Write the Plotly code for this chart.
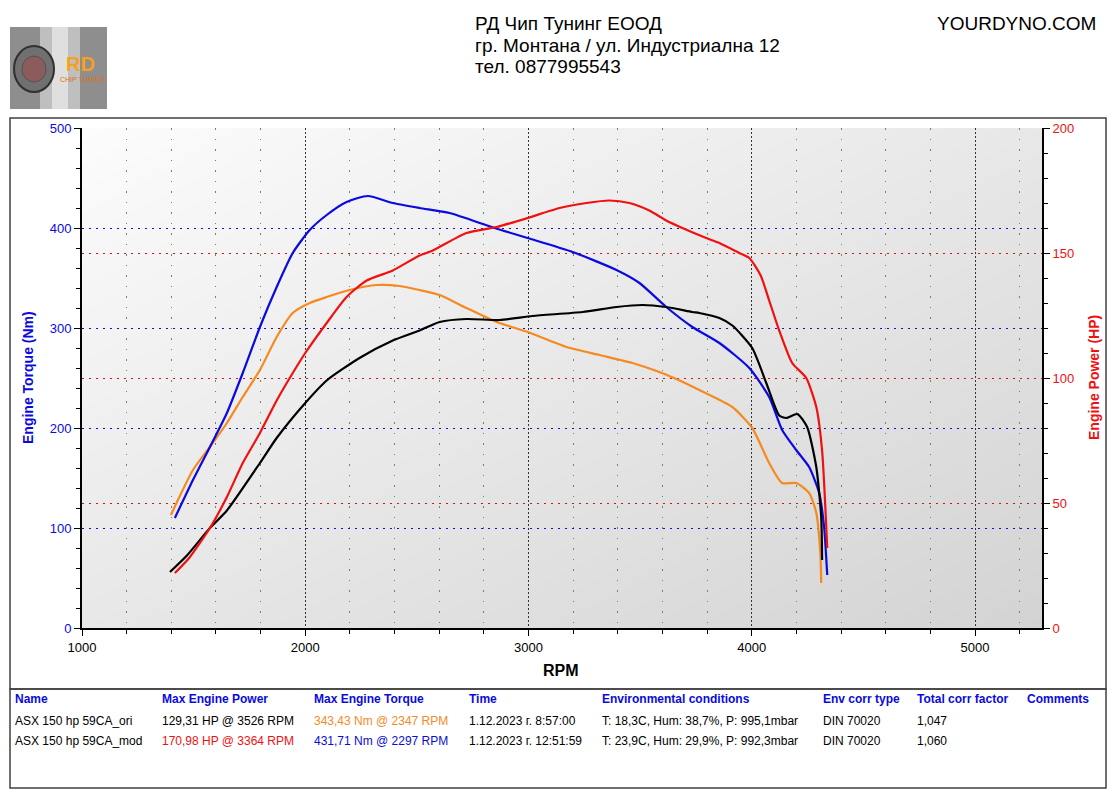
import plotly.graph_objects as go

W, H = 1116, 794
OFF = 8  # the page puts the figure 8px in from the top-left corner

# --- dyno curves ---
ori_torque_rpm = [1398, 1497, 1573, 1649, 1720, 1797, 1872, 1944, 2020, 2096, 2199, 2320, 2423, 2512,
                  2602, 2722, 2857, 2996, 3170, 3318, 3465, 3586, 3662, 3765, 3913, 4002, 4078, 4136,
                  4199, 4257, 4289, 4307, 4311]
ori_torque_nm = [113, 158, 181, 205, 231, 258, 291, 315, 325, 331, 338, 343, 342, 338,
                 333, 320, 306, 296, 281, 273, 265, 256, 249, 238, 221, 200, 165, 145,
                 145, 135, 115, 75, 45]

mod_torque_rpm = [1416, 1497, 1573, 1649, 1720, 1797, 1872, 1944, 2020, 2096, 2185, 2280, 2392, 2512,
                  2647, 2848, 2996, 3198, 3394, 3497, 3617, 3734, 3855, 3989, 4078, 4136, 4199, 4257,
                  4302, 4324, 4338]
mod_torque_nm = [110, 148, 181, 215, 255, 301, 341, 375, 398, 413, 426, 432, 425, 420,
                 415, 400, 390, 376, 358, 345, 321, 301, 285, 260, 231, 198, 178, 161,
                 135, 101, 53]

mod_power_rpm = [1416, 1480, 1573, 1649, 1720, 1797, 1872, 1944, 2000, 2096, 2185, 2275, 2392, 2512,
                 2571, 2722, 2857, 2996, 3139, 3259, 3362, 3452, 3541, 3617, 3689, 3796, 3855, 3944,
                 3989, 4040, 4078, 4123, 4181, 4244, 4289, 4315, 4338]
mod_power_hp = [22, 28, 40, 52.4, 66, 78, 91, 102, 110, 122, 132.4, 139, 143, 149,
                151, 158, 160.4, 164, 168, 170, 171, 170, 167, 163, 160, 156, 154, 150,
                148, 141, 131, 119, 106, 100, 88.4, 71, 32]

ori_power_rpm = [1394, 1470, 1573, 1649, 1797, 1872, 2000, 2096, 2243, 2392, 2512, 2602, 2722, 2870,
                 3018, 3242, 3394, 3510, 3617, 3734, 3765, 3855, 3913, 4002, 4065, 4123, 4154, 4204,
                 4248, 4289, 4311, 4315]
ori_power_hp = [22.4, 29, 40, 47, 66, 76, 90, 99, 108, 115, 119, 122.4, 123.6, 123.2,
                124.8, 126.4, 128.4, 129.2, 128.4, 126.4, 126, 124, 121, 112, 98, 85, 84, 85.6,
                80.4, 64.4, 44.4, 27.2]

# --- header and table text ---
header_lines = ["РД Чип Тунинг ЕООД", "гр. Монтана / ул. Индустриална 12", "тел. 0877995543"]
site_name = "YOURDYNO.COM"

table_cols = ["Name", "Max Engine Power", "Max Engine Torque", "Time", "Environmental conditions",
              "Env corr type", "Total corr factor", "Comments"]
row_ori = ["ASX 150 hp 59CA_ori", "129,31 HP @ 3526 RPM", "343,43 Nm @ 2347 RPM", "1.12.2023 г. 8:57:00",
           "T: 18,3C, Hum: 38,7%, P: 995,1mbar", "DIN 70020", "1,047", ""]
row_mod = ["ASX 150 hp 59CA_mod", "170,98 HP @ 3364 RPM", "431,71 Nm @ 2297 RPM", "1.12.2023 г. 12:51:59",
           "T: 23,9C, Hum: 29,9%, P: 992,3mbar", "DIN 70020", "1,060", ""]

BLUE = "#0a0ae0"
RED = "#f01010"
ORANGE = "#f58a1f"
BLACK = "#000000"
NARROW = "Liberation Sans Narrow, Arial Narrow, Liberation Sans, sans-serif"
SANS = "Liberation Sans, Arial, sans-serif"


def px(x):
    return (x - OFF) / W


def py(y):
    return 1 - (y - OFF) / H


xdom = [px(82), px(1042)]
ydom = [py(628), py(128)]

fig = go.Figure()

# gradient background of the plot area (own hidden subplot, drawn first)
fig.add_trace(go.Heatmap(x=[0, 1], y=[0, 1], z=[[0.5, 1.0], [0.0, 0.5]], zsmooth="best",
                         colorscale=[[0, "#fcfcfc"], [1, "#d3d3d3"]], showscale=False,
                         hoverinfo="skip", xaxis="x", yaxis="y"))

line_w = 2.2
fig.add_trace(go.Scatter(x=ori_torque_rpm, y=ori_torque_nm, mode="lines", name="ori torque",
                         line=dict(color=ORANGE, width=line_w, shape="spline", smoothing=0.6),
                         xaxis="x2", yaxis="y2"))
fig.add_trace(go.Scatter(x=mod_torque_rpm, y=mod_torque_nm, mode="lines", name="mod torque",
                         line=dict(color=BLUE, width=line_w, shape="spline", smoothing=0.6),
                         xaxis="x2", yaxis="y2"))
fig.add_trace(go.Scatter(x=ori_power_rpm, y=ori_power_hp, mode="lines", name="ori power",
                         line=dict(color=BLACK, width=line_w, shape="spline", smoothing=0.6),
                         xaxis="x2", yaxis="y3"))
fig.add_trace(go.Scatter(x=mod_power_rpm, y=mod_power_hp, mode="lines", name="mod power",
                         line=dict(color=RED, width=line_w, shape="spline", smoothing=0.6),
                         xaxis="x2", yaxis="y3"))

shapes = []
# chart frame + table frame
shapes.append(dict(type="rect", xref="paper", yref="paper", x0=px(10), x1=px(1106), y0=py(689), y1=py(118),
                   line=dict(color="#404040", width=1.5)))
shapes.append(dict(type="rect", xref="paper", yref="paper", x0=px(10), x1=px(1106), y0=py(788), y1=py(689),
                   line=dict(color="#404040", width=1.5)))
# logo placeholder
shapes.append(dict(type="rect", xref="paper", yref="paper", x0=px(10), x1=px(107), y0=py(109), y1=py(27),
                   fillcolor="#8e8e8e", line_width=0))
shapes.append(dict(type="rect", xref="paper", yref="paper", x0=px(40), x1=px(80), y0=py(109), y1=py(27),
                   fillcolor="#e8e8e8", opacity=0.55, line_width=0))
shapes.append(dict(type="rect", xref="paper", yref="paper", x0=px(52), x1=px(68), y0=py(109), y1=py(27),
                   fillcolor="#ffffff", opacity=0.5, line_width=0))
shapes.append(dict(type="circle", xref="paper", yref="paper", x0=px(14), x1=px(54), y0=py(92), y1=py(46),
                   fillcolor="#707070", line=dict(color="#303030", width=2)))
shapes.append(dict(type="circle", xref="paper", yref="paper", x0=px(22), x1=px(46), y0=py(82), y1=py(56),
                   fillcolor="#a05050", opacity=0.6, line=dict(color="#404040", width=1)))

annotations = []
for i, t in enumerate(header_lines):
    annotations.append(dict(text=t, xref="paper", yref="paper", x=px(473), y=py(23 + 22 * i),
                            xanchor="left", yanchor="middle", showarrow=False,
                            font=dict(family=NARROW, size=19, color="#000")))
annotations.append(dict(text=site_name, xref="paper", yref="paper", x=px(1098), y=py(23),
                        xanchor="right", yanchor="middle", showarrow=False,
                        font=dict(family=NARROW, size=19, color="#000")))
annotations.append(dict(text="<b>RD</b>", xref="paper", yref="paper", x=px(80), y=py(64),
                        xanchor="center", yanchor="middle", showarrow=False,
                        font=dict(family=SANS, size=20, color="#f5a020")))
annotations.append(dict(text="CHIP TUNING", xref="paper", yref="paper", x=px(82), y=py(79),
                        xanchor="center", yanchor="middle", showarrow=False,
                        font=dict(family=NARROW, size=7, color="#e07010")))

# axis titles
annotations.append(dict(text="<b>Engine Torque (Nm)</b>", xref="paper", yref="paper", x=px(28), y=py(378),
                        textangle=-90, xanchor="center", yanchor="middle", showarrow=False,
                        font=dict(family=SANS, size=14, color=BLUE)))
annotations.append(dict(text="<b>Engine Power (HP)</b>", xref="paper", yref="paper", x=px(1094), y=py(378),
                        textangle=-90, xanchor="center", yanchor="middle", showarrow=False,
                        font=dict(family=SANS, size=14, color=RED)))
annotations.append(dict(text="<b>RPM</b>", xref="paper", yref="paper", x=px(561), y=py(670),
                        xanchor="center", yanchor="middle", showarrow=False,
                        font=dict(family=SANS, size=16, color="#000")))

# table
col_x = [13, 160, 312, 467, 600, 821, 915, 1025]
ori_colors = ["#000", "#000", ORANGE, "#000", "#000", "#000", "#000", "#000"]
mod_colors = ["#000", RED, BLUE, "#000", "#000", "#000", "#000", "#000"]
for cx, h in zip(col_x, table_cols):
    annotations.append(dict(text="<b>" + h + "</b>", xref="paper", yref="paper", x=px(cx), y=py(699),
                            xanchor="left", yanchor="middle", showarrow=False,
                            font=dict(family=NARROW, size=12, color=BLUE)))
for row, cols, ry in [(row_ori, ori_colors, 721), (row_mod, mod_colors, 741)]:
    for cx, t, c in zip(col_x, row, cols):
        if t:
            annotations.append(dict(text=t, xref="paper", yref="paper", x=px(cx), y=py(ry),
                                    xanchor="left", yanchor="middle", showarrow=False,
                                    font=dict(family=NARROW, size=12, color=c)))

fig.update_layout(
    width=W, height=H,
    margin=dict(l=0, r=0, t=0, b=0, autoexpand=False),
    paper_bgcolor="white",
    plot_bgcolor="rgba(0,0,0,0)",
    showlegend=False,
    shapes=shapes,
    annotations=annotations,
    xaxis=dict(domain=xdom, range=[0, 1], visible=False, fixedrange=True, automargin=False),
    yaxis=dict(domain=ydom, range=[0, 1], visible=False, fixedrange=True, automargin=False),
    xaxis2=dict(domain=xdom, range=[1000, 5300], anchor="y2", automargin=False,
                tick0=0, dtick=1000, ticks="outside", ticklen=6, tickcolor="#000",
                tickfont=dict(family=SANS, size=13, color="#000"),
                showline=True, linecolor="#000", linewidth=2,
                showgrid=True, gridcolor="#333333", griddash="1.5px,2.5px", gridwidth=1.4,
                minor=dict(dtick=200, tick0=0, ticks="outside", ticklen=4, tickcolor="#000",
                           showgrid=True, gridcolor="#5f8f5f", griddash="1.5px,9px", gridwidth=1),
                zeroline=False),
    # top border with short inward ticks
    xaxis3=dict(domain=xdom, range=[1000, 5300], overlaying="x2", side="top", anchor="y2",
                automargin=False, showticklabels=False, showgrid=False, zeroline=False,
                showline=True, linecolor="#333", linewidth=1.2,
                tick0=0, dtick=1000, ticks="inside", ticklen=5, tickcolor="#000",
                minor=dict(dtick=200, tick0=0, ticks="inside", ticklen=3, tickcolor="#000")),
    yaxis2=dict(domain=ydom, range=[0, 500], anchor="x2", automargin=False,
                tick0=0, dtick=100, ticks="outside", ticklen=6, tickcolor="#000",
                tickfont=dict(family=SANS, size=13, color=BLUE),
                showline=True, linecolor="#000", linewidth=2,
                showgrid=True, gridcolor="#1010d0", griddash="2px,5px", gridwidth=1.2,
                minor=dict(dtick=20, ticks="outside", ticklen=4, tickcolor="#000"),
                zeroline=False),
    yaxis3=dict(range=[0, 200], overlaying="y2", side="right", anchor="x2", automargin=False,
                tick0=0, dtick=50, ticks="outside", ticklen=6, tickcolor="#000",
                tickfont=dict(family=SANS, size=13, color=RED),
                showline=True, linecolor="#000", linewidth=2,
                showgrid=True, gridcolor="#e01010", griddash="2px,5px", gridwidth=1.2,
                minor=dict(dtick=10, ticks="outside", ticklen=4, tickcolor="#000"),
                zeroline=False),
)

fig.write_html("out.html")
